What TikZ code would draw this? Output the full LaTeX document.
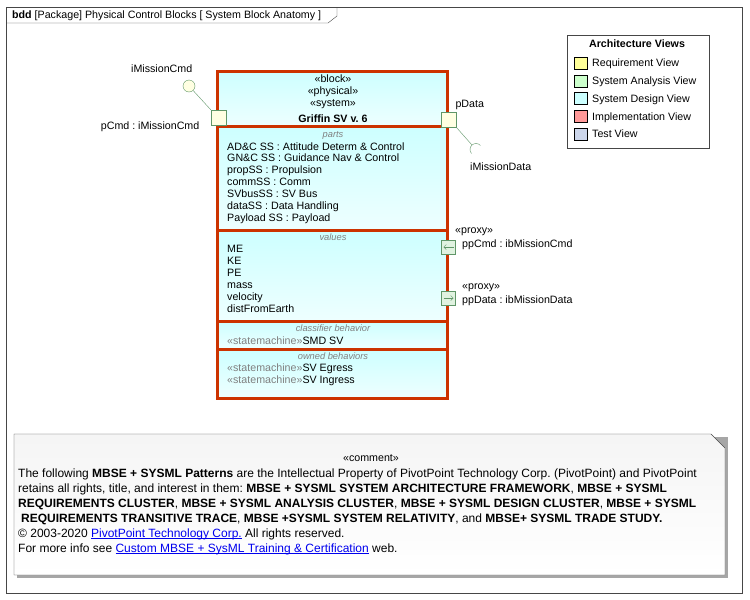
\documentclass[tikz,border=0pt]{standalone}
\usepackage{fontspec}
\setmainfont{Liberation Sans}
\usetikzlibrary{positioning, calc, arrows.meta}
\frenchspacing

\definecolor{blockred}{RGB}{204,51,0}
\definecolor{cyantop}{RGB}{205,255,255}
\definecolor{cyanbot}{RGB}{238,255,255}
\definecolor{portgreen}{RGB}{96,150,104}
\definecolor{portyellow}{RGB}{255,255,226}
\definecolor{proxyfill}{RGB}{224,242,224}
\definecolor{labelgray}{RGB}{128,128,128}
\definecolor{framegray}{RGB}{70,70,70}
\definecolor{linkblue}{RGB}{0,0,238}
\definecolor{reqview}{RGB}{255,255,153}
\definecolor{anaview}{RGB}{204,255,204}
\definecolor{desview}{RGB}{204,255,255}
\definecolor{impview}{RGB}{255,153,153}
\definecolor{testview}{RGB}{204,214,235}

\newcommand{\umlfont}{\fontsize{10.67}{12}\selectfont}
\newcommand{\cmtfont}{\fontsize{12}{15}\selectfont}
\newcommand{\stereo}[1]{{\color{labelgray}«#1»}}
\newcommand{\weblink}[1]{{\color{linkblue}\setbox0\hbox{#1}\rlap{\rule[-1.3pt]{\wd0}{0.6pt}}\box0}}

\tikzset{
	txt/.style={anchor=base west, inner sep=0pt, font=\umlfont},
	ctxt/.style={anchor=base, inner sep=0pt, font=\umlfont},
	comptitle/.style={anchor=base, inner sep=0pt, font=\fontsize{9.3}{11}\selectfont\itshape, text=labelgray},
	cmt/.style={anchor=base west, inner sep=0pt, font=\cmtfont},
	compartment/.style={draw=blockred, line width=3pt, top color=cyantop, bottom color=cyanbot},
	port/.style={draw=portgreen, fill=portyellow, minimum size=15pt, inner sep=0pt},
	proxyport/.style={draw=portgreen, fill=proxyfill, minimum size=14pt, inner sep=0pt},
	portline/.style={draw=portgreen, thin},
	swatch/.style={draw=black, minimum width=13pt, minimum height=12pt, inner sep=0pt},
}

\begin{document}
\begin{tikzpicture}[x=1pt, y=-1pt]
	\useasboundingbox (0,0) rectangle (750,600);
	\fill[white] (0,0) rectangle (750,600);

	% diagram frame
	\draw[framegray] (6,7) rectangle (742,593);
	\draw[framegray] (6,23) -- (328,23) -- (337,16) -- (337,7);
	\node[txt] (title) at (12,18) {\textbf{bdd} [Package] Physical Control Blocks [ System Block Anatomy ]};

	% block compartments
	\draw[compartment] (217.5,71) rectangle (447.5,126.7);
	\draw[compartment] (217.5,126.7) rectangle (447.5,230.3);
	\draw[compartment] (217.5,230.3) rectangle (447.5,321.3);
	\draw[compartment] (217.5,321.3) rectangle (447.5,349.7);
	\draw[compartment] (217.5,349.7) rectangle (447.5,398);

	\node[ctxt] (stBlock) at (333,82.7) {«block»};
	\node[ctxt] (stPhys) at (333,94.6) {«physical»};
	\node[ctxt] (stSys) at (333,106.5) {«system»};
	\node[ctxt, font=\umlfont\bfseries] (blockName) at (333,122) {Griffin SV v. 6};

	\node[comptitle] (partsTitle) at (333,137.5) {parts};
	\node[txt] (part1) at (227,150) {AD\&C SS : Attitude Determ \& Control};
	\node[txt] (part2) at (227,161.8) {GN\&C SS : Guidance Nav \& Control};
	\node[txt] (part3) at (227,173.7) {propSS : Propulsion};
	\node[txt] (part4) at (227,185.5) {commSS : Comm};
	\node[txt] (part5) at (227,197.4) {SVbusSS : SV Bus};
	\node[txt] (part6) at (227,209.2) {dataSS : Data Handling};
	\node[txt] (part7) at (227,221) {Payload SS : Payload};

	\node[comptitle] (valuesTitle) at (333,240.7) {values};
	\node[txt] (val1) at (227,252.7) {ME};
	\node[txt] (val2) at (227,264.6) {KE};
	\node[txt] (val3) at (227,276.5) {PE};
	\node[txt] (val4) at (227,288.4) {mass};
	\node[txt] (val5) at (227,300.3) {velocity};
	\node[txt] (val6) at (227,312.2) {distFromEarth};

	\node[comptitle] (classTitle) at (333,331.7) {classifier behavior};
	\node[txt] (smdSV) at (227,344) {\stereo{statemachine}SMD SV};

	\node[comptitle] (ownedTitle) at (333,359.7) {owned behaviors};
	\node[txt] (egress) at (227,371.7) {\stereo{statemachine}SV Egress};
	\node[txt] (ingress) at (227,383.7) {\stereo{statemachine}SV Ingress};

	% full ports with provided / required interfaces
	\node[port] (pCmd) at (218.5,117.5) {};
	\node[circle, draw=portgreen, fill=portyellow, minimum size=12pt, inner sep=0pt] (iCmdBall) at (189,86) {};
	\draw[portline] (iCmdBall) -- (pCmd.north west);
	\node[txt] (iCmdLabel) at (131,72.7) {iMissionCmd};
	\node[txt, anchor=base east] (pCmdLabel) at (199.5,129) {pCmd : iMissionCmd};

	\node[port] (pData) at (448.5,119.5) {};
	\coordinate (sockEnd) at (472,145);
	\coordinate (sockC) at (476,149.5);
	\draw[portline] (pData.south east) -- (sockEnd);
	\draw[portline] ($(sockC)+(42:6pt)$) arc[start angle=42, end angle=222, radius=6pt];
	\node[txt] (pDataLabel) at (455.3,107.7) {pData};
	\node[txt] (iDataLabel) at (470,170.7) {iMissionData};

	% proxy ports
	\node[proxyport] (ppCmd) at (448.5,247) {};
	\draw[portgreen, -{Straight Barb[length=2.5pt, width=5pt]}] ($(ppCmd.center)+(5,0)$) -- ($(ppCmd.center)+(-5,0)$);
	\node[txt] (ppCmdStereo) at (455,233.3) {«proxy»};
	\node[txt] (ppCmdLabel) at (462,247.7) {ppCmd : ibMissionCmd};

	\node[proxyport] (ppData) at (448.5,298) {};
	\draw[portgreen, -{Straight Barb[length=2.5pt, width=5pt]}] ($(ppData.center)+(-5,0)$) -- ($(ppData.center)+(5,0)$);
	\node[txt] (ppDataStereo) at (462,289.3) {«proxy»};
	\node[txt] (ppDataLabel) at (462,303.7) {ppData : ibMissionData};

	% legend
	\draw[framegray] (567,35) rectangle (709,148);
	\node[ctxt, font=\umlfont\bfseries] (legendTitle) at (637,47.3) {Architecture Views};
	\node[swatch, fill=reqview] (swReq) at (580.5,63) {};
	\node[txt] (lgReq) at (592,66.7) {Requirement View};
	\node[swatch, fill=anaview] (swAna) at (580.5,80.8) {};
	\node[txt] (lgAna) at (592,84.5) {System Analysis View};
	\node[swatch, fill=desview] (swDes) at (580.5,98.5) {};
	\node[txt] (lgDes) at (592,102.2) {System Design View};
	\node[swatch, fill=impview] (swImp) at (580.5,116.3) {};
	\node[txt] (lgImp) at (592,120) {Implementation View};
	\node[swatch, fill=testview] (swTest) at (580.5,134) {};
	\node[txt] (lgTest) at (592,137.7) {Test View};

	% comment note
	\fill[gray!70] (17,437) -- (728,437) -- (728,578) -- (17,578) -- cycle;
	\draw[framegray, top color=gray!8, bottom color=white] (14,434) -- (711,434) -- (725,448) -- (725,575) -- (14,575) -- cycle;
	\node[ctxt] (cmtStereo) at (371,461.7) {«comment»};
	\node[cmt] (cmt1) at (18,477.5) {The following \textbf{MBSE + SYSML Patterns} are the Intellectual Property of PivotPoint Technology Corp. (PivotPoint) and PivotPoint};
	\node[cmt] (cmt2) at (18,492.4) {retains all rights, title, and interest in them: \textbf{MBSE + SYSML SYSTEM ARCHITECTURE FRAMEWORK}, \textbf{MBSE + SYSML}};
	\node[cmt] (cmt3) at (18,507.3) {\textbf{REQUIREMENTS CLUSTER}, \textbf{MBSE + SYSML ANALYSIS CLUSTER}, \textbf{MBSE + SYSML DESIGN CLUSTER}, \textbf{MBSE + SYSML}};
	\node[cmt] (cmt4) at (21,522.2) {\textbf{REQUIREMENTS TRANSITIVE TRACE}, \textbf{MBSE +SYSML SYSTEM RELATIVITY}, and \textbf{MBSE+ SYSML TRADE STUDY.}};
	\node[cmt] (cmt5) at (18,537.1) {© 2003-2020 \weblink{PivotPoint Technology Corp.} All rights reserved.};
	\node[cmt] (cmt6) at (18,552) {For more info see \weblink{Custom MBSE + SysML Training \& Certification} web.};
\end{tikzpicture}
\end{document}
